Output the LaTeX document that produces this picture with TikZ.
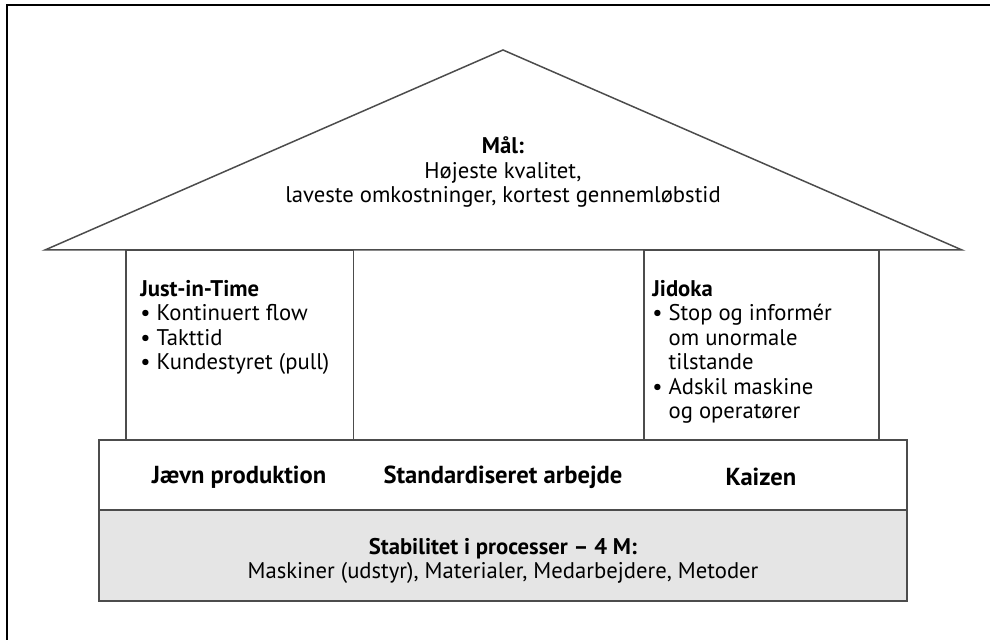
\documentclass[tikz,border=0pt]{standalone}
\usepackage{fontspec}
\setmainfont{PT Sans}
\usepackage{tikz}
\usetikzlibrary{positioning}

\begin{document}
\begin{tikzpicture}[
        wall/.style={draw=black!70, line width=0.85pt},
        txt/.style={inner sep=0pt, font=\fontsize{12.9}{13.9}\selectfont},
        head/.style={inner sep=0pt, font=\fontsize{14}{16}\selectfont\bfseries}
    ]
        \useasboundingbox (0,0) rectangle (19.8,12.8);
        % frame (only top and left edge)
        \draw[line width=1.1pt] (0.14,0) -- (0.14,12.7) -- (19.8,12.7);

        % roof
        \coordinate (roofL) at (0.9, 7.8);
        \coordinate (apex)  at (10.06, 11.8);
        \coordinate (roofR) at (19.24, 7.8);
        \draw[wall, line join=miter] (roofL) -- (apex) -- (roofR) -- cycle;

        % pillars
        \draw[wall] (2.52, 7.8) rectangle (7.07, 4.0);
        \draw[wall] (12.88, 7.8) rectangle (17.58, 4.0);

        % floor and base
        \draw[wall] (1.98, 4.0) rectangle (18.14, 2.6);
        \draw[wall, fill=black!10] (1.98, 2.6) rectangle (18.14, 0.78);

        \node[txt, align=center] (goal) at (10.06, 9.36)
            {\textbf{Mål:}\\Højeste kvalitet,\\laveste omkostninger, kortest gennemløbstid};

        \node[txt, align=left, anchor=north west] (jit) at (2.8, 7.20)
            {\textbf{Just-in-Time}\\• Kontinuert flow\\• Takttid\\• Kundestyret (pull)};
        \node[txt, align=left, anchor=north west] (jidoka) at (13.04, 7.20)
            {\textbf{Jidoka}\\• Stop og informér\\\phantom{• }om unormale\\\phantom{• }tilstande\\• Adskil maskine\\\phantom{• }og operatører};

        \node[head] (level)    at (4.78, 3.26)  {Jævn produktion};
        \node[head] (standard) at (10.06, 3.26) {Standardiseret arbejde};
        \node[head] (kaizen)   at (15.22, 3.26) {Kaizen};

        \node[txt, align=center] (stability) at (10.06, 1.58)
            {\textbf{Stabilitet i processer – 4 M:}\\Maskiner (udstyr), Materialer, Medarbejdere, Metoder};
    \end{tikzpicture}
\end{document}
